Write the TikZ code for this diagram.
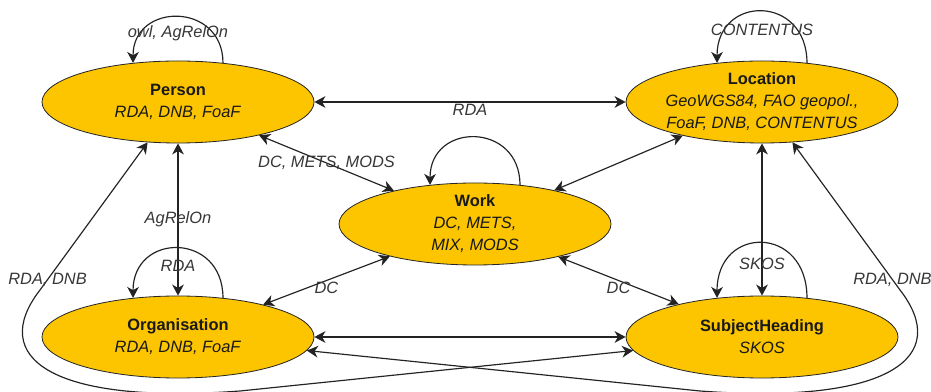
\documentclass[tikz,border=0pt]{standalone}
\usepackage{fontspec}
\setmainfont{Liberation Sans}
\usepackage{xcolor}
\usetikzlibrary{arrows.meta, shapes.geometric}
\definecolor{clsyellow}{RGB}{252,197,0}
\definecolor{edgegray}{RGB}{35,35,35}
\definecolor{lblgray}{RGB}{55,55,55}

\begin{document}
\begin{tikzpicture}[
  x=0.3mm, y=0.3mm,
  font=\fontsize{14}{18.7}\selectfont,
  cls/.style={ellipse, draw=black!85, line width=0.7pt, fill=clsyellow,
              minimum width=81.6mm, minimum height=24.6mm, inner sep=-3pt,
              align=center, text=black!90},
  lbl/.style={font=\fontsize{14}{16}\selectfont\itshape, text=lblgray, inner sep=1pt},
  arr/.style={{Stealth[length=3.3mm, width=3.5mm, inset=1mm]}-{Stealth[length=3.3mm, width=3.5mm, inset=1mm]},
              line width=1pt, draw=edgegray},
  selfarr/.style={-{Stealth[length=3.3mm, width=3.5mm, inset=1mm]}, line width=1pt, draw=edgegray}
]
\useasboundingbox (0,0) rectangle (931,392);
%% classes (top row y=290, middle y=168, bottom row y=55)
\node[cls] (person)   at (178,290) {\textbf{Person}\\\textit{RDA, DNB, FoaF}};
\node[cls] (location) at (762,290) {\textbf{Location}\\\textit{GeoWGS84, FAO geopol.,}\\\textit{FoaF, DNB, CONTENTUS}};
\node[cls] (work)     at (475,168) {\textbf{Work}\\\textit{DC, METS,}\\\textit{MIX, MODS}};
\node[cls] (org)      at (178,55)  {\textbf{Organisation}\\\textit{RDA, DNB, FoaF}};
\node[cls] (subject)  at (762,55)  {\textbf{SubjectHeading}\\\textit{SKOS}};
%% straight relations
\draw[arr] (person) -- node[lbl, below] (l_rda) {RDA} (location);
\draw[arr] (person) -- node[lbl] (l_dcmets) {DC, METS, MODS} (work);
\draw[arr] (location) -- (work);
\draw[arr] (org) -- node[lbl, below] (l_dcorg) {DC} (work);
\draw[arr] (subject) -- node[lbl, below] (l_dcsubj) {DC} (work);
\draw[arr] (person) -- node[lbl] (l_agrel) {AgRelOn} (org);
\draw[arr] (location) -- (subject);
\draw[arr] (org) -- (subject);
%% self relations
\draw[selfarr] (person.41) to[out=90, in=90, looseness=1.74]
    node[lbl, yshift=-14pt] (l_owl) {owl, AgRelOn} (person.139);
\draw[selfarr] (location.41) to[out=90, in=90, looseness=1.95]
    node[lbl, yshift=-16pt] (l_cont) {CONTENTUS} (location.139);
\draw[selfarr] (work.41) to[out=90, in=90, looseness=1.8] (work.139);
\draw[selfarr] (org.41) to[out=90, in=90, looseness=1.88]
    node[lbl, yshift=-15pt] (l_rdaorg) {RDA} (org.139);
\draw[selfarr] (subject.41) to[out=90, in=90, looseness=2.08]
    node[lbl, yshift=-18pt] (l_skos) {SKOS} (subject.139);
%% long relations round the bottom corners
\draw[arr] (person.233) -- node[lbl, pos=0.93] (l_rdadnb_l) {RDA, DNB} (40,102)
    .. controls (-12,35) and (50,-13) .. (240,1) -- (subject.186);
\draw[arr] (location.307) -- node[lbl, pos=0.93] (l_rdadnb_r) {RDA, DNB} (900,102)
    .. controls (952,35) and (890,-13) .. (700,1) -- (org.354);
\end{tikzpicture}
\end{document}
